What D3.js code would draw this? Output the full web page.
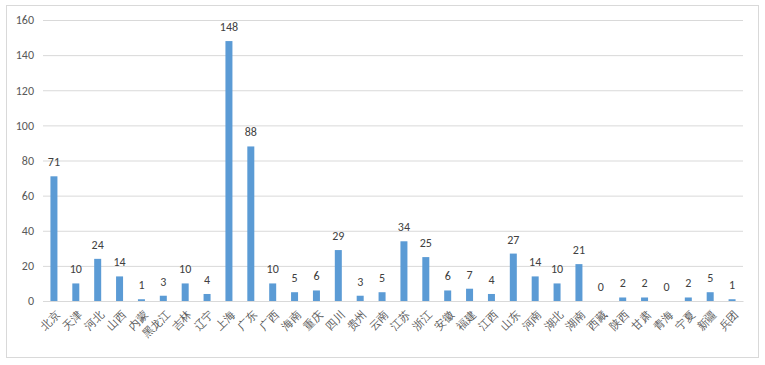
<!DOCTYPE html>
<html>
<head>
<meta charset="utf-8">
<script src="https://cdn.jsdelivr.net/npm/d3@7"></script>
<style>
  body { margin: 0; background: #fff; }
  svg { display: block; font-family: "Noto Sans CJK SC", "Microsoft YaHei", sans-serif; }
</style>
</head>
<body>
<svg id="chart" width="765" height="365"></svg>
<script>
const provinces = ['北京','天津','河北','山西','内蒙','黑龙江','吉林','辽宁','上海','广东','广西','海南','重庆','四川','贵州','云南','江苏','浙江','安徽','福建','江西','山东','河南','湖北','湖南','西藏','陕西','甘肃','青海','宁夏','新疆','兵团'];
const counts = [71,10,24,14,1,3,10,4,148,88,10,5,6,29,3,5,34,25,6,7,4,27,14,10,21,0,2,2,0,2,5,1];
const yTicks = [0,20,40,60,80,100,120,140,160];

const svg = d3.select('#chart');
const m = { left: 43, right: 22, top: 20, bottom: 64 };
const W = 765, H = 365;

// outer frame
svg.append('rect').attr('x', 6.5).attr('y', 5.5).attr('width', 752).attr('height', 352)
  .attr('fill', 'none').attr('stroke', '#d9d9d9');

const x = d3.scaleBand().domain(provinces).range([m.left, W - m.right]).paddingInner(0.68).paddingOuter(0.34);
const y = d3.scaleLinear().domain([0, 160]).range([H - m.bottom, m.top]);

// grid + y labels
const yAxis = svg.append('g').attr('transform', `translate(${m.left},0)`)
  .call(d3.axisLeft(y).tickValues(yTicks).tickSize(-(W - m.left - m.right)).tickPadding(9));
yAxis.select('.domain').remove();
yAxis.selectAll('.tick line').attr('stroke', '#d9d9d9');
yAxis.selectAll('.tick text').attr('fill', '#595959').style('font-size', '12px').style('font-family', 'Calibri, Carlito, "Liberation Sans", sans-serif');

// bars
svg.append('g').selectAll('rect').data(counts).enter().append('rect')
  .attr('x', (d, i) => x(provinces[i]))
  .attr('y', d => y(d))
  .attr('width', x.bandwidth())
  .attr('height', d => y(0) - y(d))
  .attr('fill', '#5b9bd5');

// value labels
svg.append('g').selectAll('text').data(counts).enter().append('text')
  .attr('x', (d, i) => x(provinces[i]) + x.bandwidth() / 2)
  .attr('y', d => y(d) - 10)
  .attr('text-anchor', 'middle')
  .attr('fill', '#404040')
  .style('font-size', '12px')
  .style('font-family', 'Calibri, Carlito, "Liberation Sans", sans-serif')
  .text(d => d);

// x axis
const xAxis = svg.append('g').attr('transform', `translate(0,${y(0)})`)
  .call(d3.axisBottom(x).tickSize(0).tickPadding(0));
xAxis.select('.domain').attr('stroke', '#d9d9d9');
xAxis.selectAll('.tick text')
  .attr('fill', '#595959')
  .style('font-size', '11px')
  .attr('text-anchor', 'end')
  .attr('dy', 0)
  .attr('transform', 'translate(7,14) rotate(-45)');
</script>
</body>
</html>
